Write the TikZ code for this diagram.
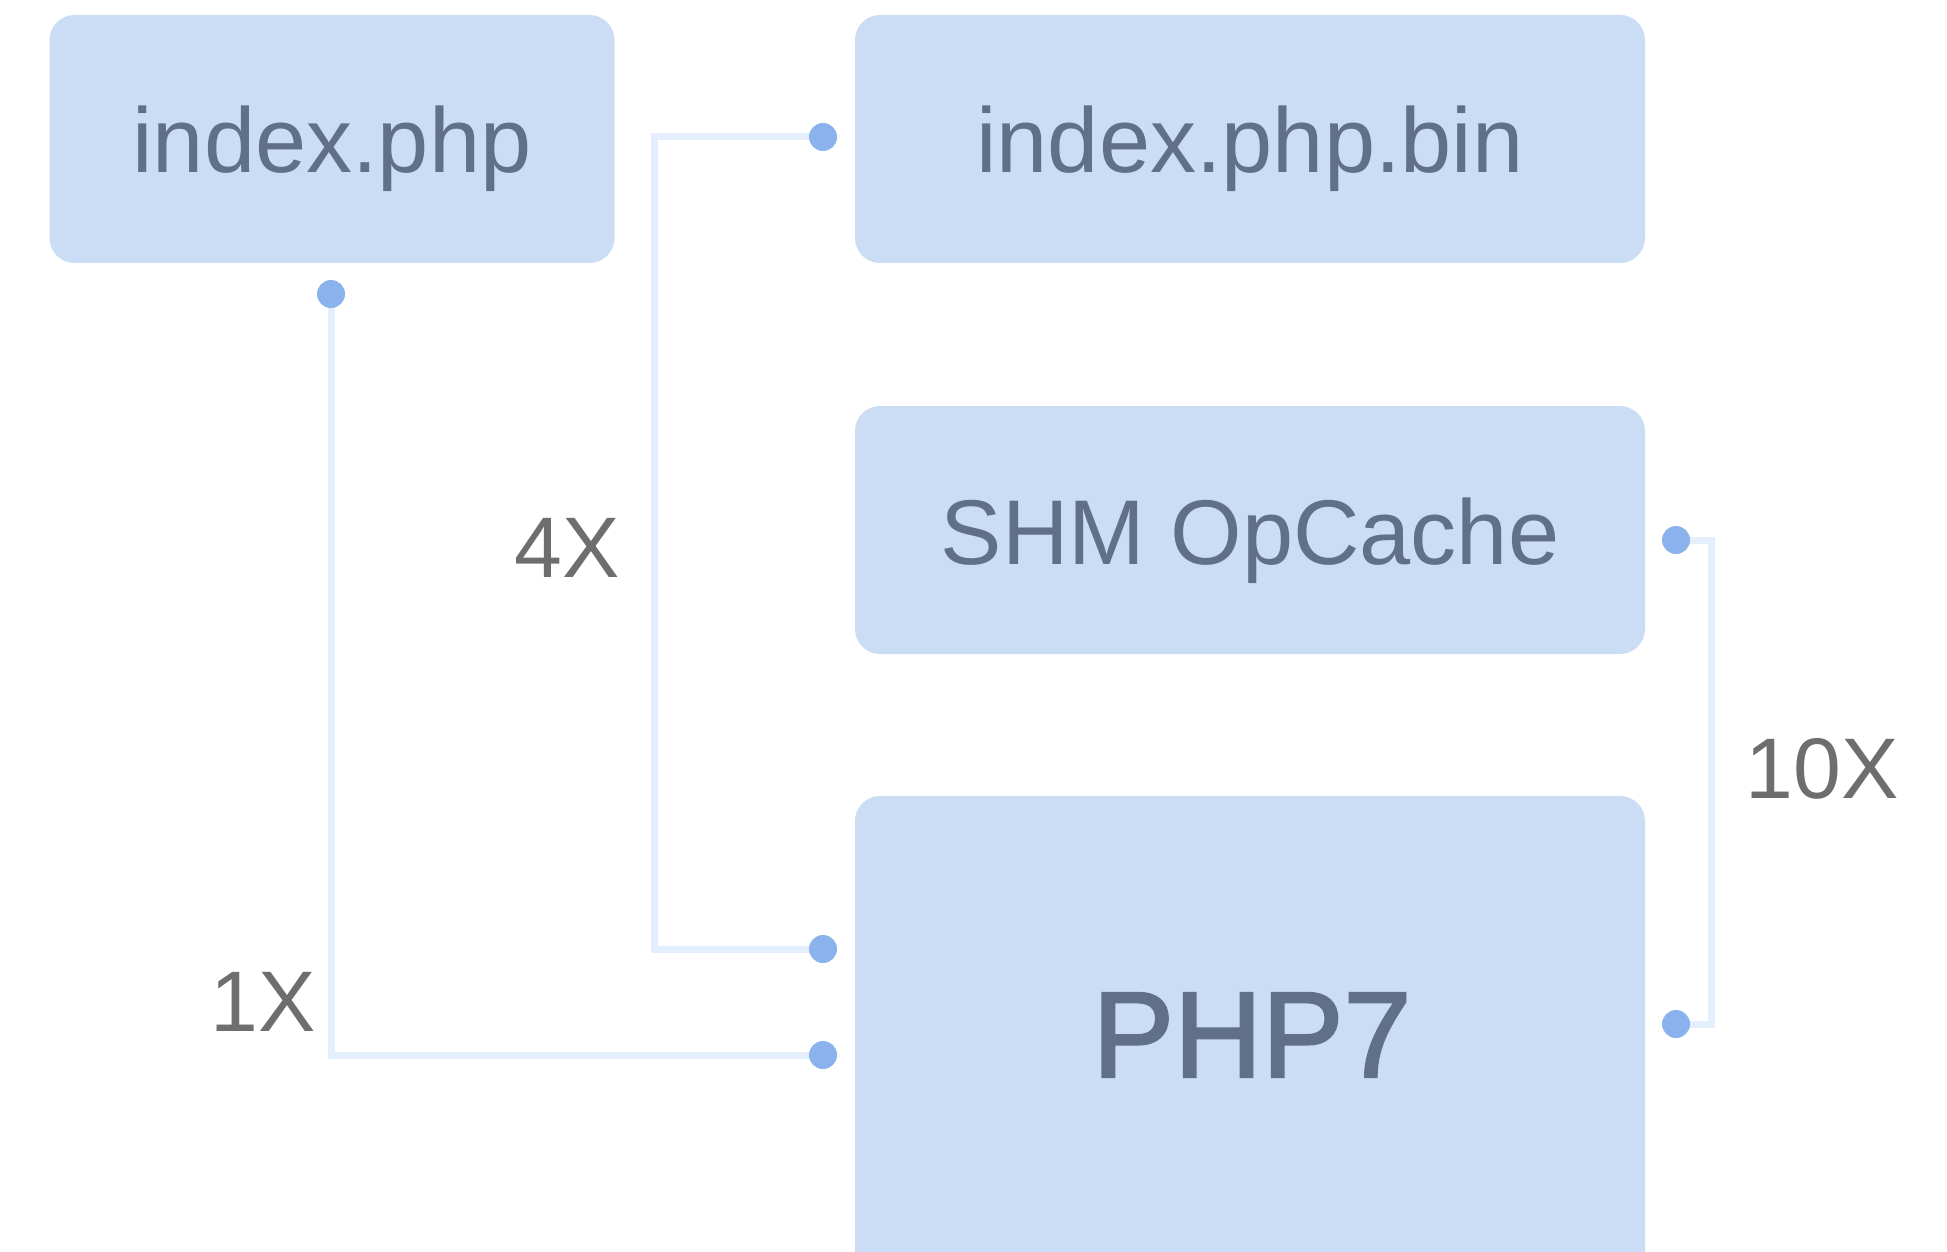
\documentclass[tikz,border=0pt]{standalone}
\usepackage{fontspec}
\setmainfont{Liberation Sans}
\newfontfamily\medfont[FakeBold=2]{Liberation Sans}
\usetikzlibrary{backgrounds}
\definecolor{boxfill}{HTML}{CBDCF5}
\definecolor{boxtext}{HTML}{617089}
\definecolor{dotc}{HTML}{8AB2EC}
\definecolor{linec}{HTML}{E4EFFD}
\definecolor{labc}{HTML}{6E6E6E}
\begin{document}
\begin{tikzpicture}[x=1pt,y=-1pt,
  boxnode/.style={fill=boxfill, draw=none, rounded corners=25pt, inner sep=0pt, minimum width=#1},
  boxnode/.default=790pt,
  boxtxt/.style={text=boxtext, inner sep=0pt, anchor=base, font=\fontsize{92}{110}\selectfont},
  bigtxt/.style={text=boxtext, inner sep=0pt, anchor=base, font=\fontsize{122}{140}\selectfont\medfont},
  labtxt/.style={text=labc, inner sep=0pt, anchor=base, font=\fontsize{86}{100}\selectfont},
  dotn/.style={circle, fill=dotc, draw=none, inner sep=0pt, minimum size=28pt},
  conn/.style={draw=linec, line width=7pt, line join=miter},
]
\useasboundingbox (0,0) rectangle (1947,1252);
\clip (0,0) rectangle (1947,1252);

% boxes
\node[boxnode=565pt, minimum height=248pt] (idx) at (332,139) {};
\node[boxnode, minimum height=248pt] (bin) at (1250,139) {};
\node[boxnode, minimum height=248pt] (shm) at (1250,530) {};
\node[boxnode, minimum height=504pt] (php) at (1250,1048) {};

% box texts
\node[boxtxt] (tidx) at ([yshift=-34pt]idx.center) {index.php};
\node[boxtxt] (tbin) at ([yshift=-34pt]bin.center) {index.php.bin};
\node[boxtxt] (tshm) at ([yshift=-34pt]shm.center) {SHM OpCache};
\node[bigtxt] (tphp) at (1252,1077) {PHP7};

% dots
\node[dotn] (d1) at (331,294) {};
\node[dotn] (d2) at (823,1055) {};
\node[dotn] (d3) at (823,137) {};
\node[dotn] (d4) at (823,949) {};
\node[dotn] (d5) at (1676,540) {};
\node[dotn] (d6) at (1676,1024) {};

\coordinate (b1) at (654,0);
\coordinate (c1) at (1711,0);

% connectors
\begin{pgfonlayer}{background}
\draw[conn] (d1.center) -- (d1.center |- d2.center) -- (d2.center);
\draw[conn] (d3.center) -- (d3.center -| b1) -- (d4.center -| b1) -- (d4.center);
\draw[conn] (d5.center) -- (d5.center -| c1) -- (d6.center -| c1) -- (d6.center);
\end{pgfonlayer}

% labels
\node[labtxt] (l4) at (567,577) {4X};
\node[labtxt] (l1) at (263,1031) {1X};
\node[labtxt] (l10) at (1822,798) {10X};
\end{tikzpicture}
\end{document}
